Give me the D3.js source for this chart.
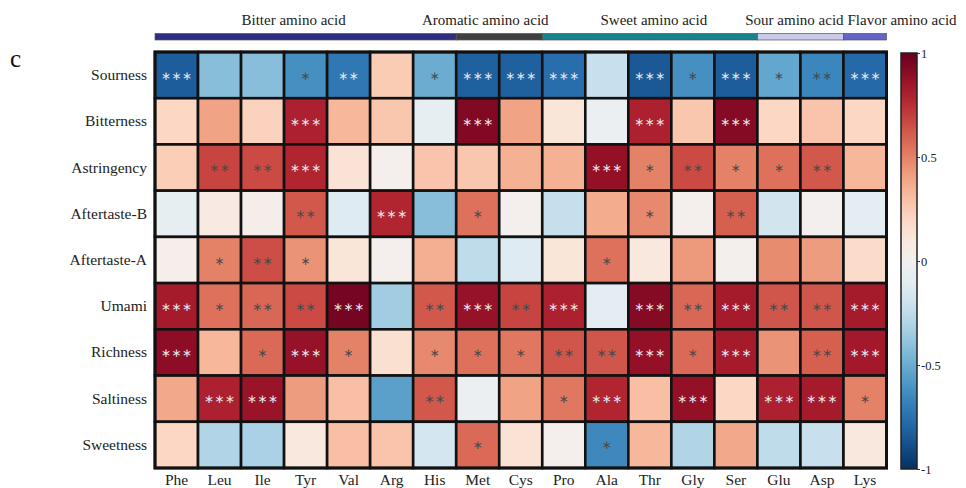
<!DOCTYPE html>
<html>
<head>
<meta charset="utf-8">
<script src="https://cdn.jsdelivr.net/npm/d3@7"></script>
<style>
  html, body { margin: 0; padding: 0; background: #fff; }
  svg { display: block; }
  .serif { font-family: "Liberation Serif", "DejaVu Serif", "Noto Serif", serif; }
</style>
</head>
<body>
<svg id="chart" width="966" height="488"></svg>
<script>
// Taste attributes (rows) and amino acids (columns)
const tastes = ["Sourness", "Bitterness", "Astringency", "Aftertaste-B", "Aftertaste-A",
                "Umami", "Richness", "Saltiness", "Sweetness"];
const aminoAcids = ["Phe", "Leu", "Ile", "Tyr", "Val", "Arg", "His", "Met", "Cys",
                    "Pro", "Ala", "Thr", "Gly", "Ser", "Glu", "Asp", "Lys"];

// Amino acid groups along the top band
const groupNames = ["Bitter amino acid", "Aromatic amino acid", "Sweet amino acid",
                    "Sour amino acid", "Flavor amino acid"];
const groupFirst = ["Phe", "Met", "Pro", "Glu", "Lys"];
const groupLast  = ["His", "Cys", "Ser", "Asp", "Lys"];
const groupColors = ["#2d2e83", "#3f3f3f", "#17838c", "#c9c9ea", "#6464c8"];

// Pearson correlation coefficients, one row per taste attribute
const corr = [
  [-0.83, -0.42, -0.42, -0.62, -0.72, 0.25, -0.50, -0.82, -0.82, -0.76, -0.22, -0.85, -0.62, -0.83, -0.52, -0.66, -0.78],
  [0.20, 0.40, 0.22, 0.80, 0.33, 0.27, -0.08, 0.93, 0.40, 0.12, -0.05, 0.80, 0.27, 0.92, 0.20, 0.28, 0.20],
  [0.24, 0.68, 0.66, 0.78, 0.13, 0.02, 0.28, 0.27, 0.35, 0.35, 0.88, 0.50, 0.66, 0.50, 0.55, 0.62, 0.33],
  [-0.08, 0.08, 0.04, 0.62, -0.12, 0.78, -0.42, 0.55, 0.02, -0.23, 0.37, 0.48, 0.02, 0.60, -0.18, 0.00, -0.10],
  [0.03, 0.50, 0.65, 0.45, 0.12, 0.02, 0.36, -0.25, -0.12, 0.12, 0.55, 0.10, 0.43, 0.01, 0.47, 0.42, 0.18],
  [0.82, 0.55, 0.58, 0.66, 0.96, -0.35, 0.62, 0.87, 0.68, 0.80, -0.10, 0.92, 0.58, 0.82, 0.63, 0.63, 0.82],
  [0.90, 0.33, 0.57, 0.87, 0.50, 0.15, 0.48, 0.55, 0.53, 0.63, 0.63, 0.88, 0.57, 0.82, 0.45, 0.60, 0.83],
  [0.38, 0.80, 0.86, 0.42, 0.30, -0.55, 0.62, -0.05, 0.40, 0.53, 0.78, 0.30, 0.88, 0.20, 0.80, 0.82, 0.50],
  [0.20, -0.30, -0.32, 0.10, 0.30, 0.28, -0.17, 0.57, 0.14, 0.02, -0.65, 0.33, -0.30, 0.38, -0.25, -0.22, 0.10]
];

// Significance level per cell (number of asterisks)
const signif = [
  [3, 0, 0, 1, 2, 0, 1, 3, 3, 3, 0, 3, 1, 3, 1, 2, 3],
  [0, 0, 0, 3, 0, 0, 0, 3, 0, 0, 0, 3, 0, 3, 0, 0, 0],
  [0, 2, 2, 3, 0, 0, 0, 0, 0, 0, 3, 1, 2, 1, 1, 2, 0],
  [0, 0, 0, 2, 0, 3, 0, 1, 0, 0, 0, 1, 0, 2, 0, 0, 0],
  [0, 1, 2, 1, 0, 0, 0, 0, 0, 0, 1, 0, 0, 0, 0, 0, 0],
  [3, 1, 2, 2, 3, 0, 2, 3, 2, 3, 0, 3, 2, 3, 2, 2, 3],
  [3, 0, 1, 3, 1, 0, 1, 1, 1, 2, 2, 3, 1, 3, 0, 2, 3],
  [0, 3, 3, 0, 0, 0, 2, 0, 0, 1, 3, 0, 3, 0, 3, 3, 1],
  [0, 0, 0, 0, 0, 0, 0, 1, 0, 0, 1, 0, 0, 0, 0, 0, 0]
];

const legendTicks = [1, 0.5, 0, -0.5, -1];

// ---- layout ----
const svg = d3.select("#chart");
const grid = { left: 155, right: 886.5, top: 52, bottom: 468 };

const x = d3.scaleBand().domain(aminoAcids).range([grid.left, grid.right]).padding(0);
const y = d3.scaleBand().domain(tastes).range([grid.top, grid.bottom]).padding(0);
const color = d3.scaleDiverging(d3.interpolateRdBu).domain([1, 0, -1]);

// panel letter
svg.append("text")
  .attr("class", "serif")
  .attr("x", 10).attr("y", 67)
  .attr("font-size", 25)
  .attr("fill", "#111")
  .text("c");

// ---- group band ----
const bandY = 33.5, bandH = 6.5;
const labelNudge = [-12, -14, 4, -6, 0];
groupNames.forEach((name, i) => {
  const x0 = x(groupFirst[i]);
  const x1 = x(groupLast[i]) + x.bandwidth();
  svg.append("rect")
    .attr("x", x0).attr("y", bandY)
    .attr("width", x1 - x0).attr("height", bandH)
    .attr("fill", groupColors[i])
    .attr("stroke", "#555").attr("stroke-width", 0.7);
  const last = i === groupNames.length - 1;
  svg.append("text")
    .attr("class", "serif")
    .attr("x", last ? x0 + 4 : (x0 + x1) / 2 + labelNudge[i])
    .attr("y", 25)
    .attr("text-anchor", last ? "start" : "middle")
    .attr("font-size", 15)
    .attr("fill", "#222")
    .text(name);
});

// ---- heatmap cells ----
const cells = [];
tastes.forEach((t, r) => aminoAcids.forEach((a, c) => {
  cells.push({ taste: t, acid: a, v: corr[r][c], s: signif[r][c] });
}));

svg.append("g").selectAll("rect")
  .data(cells).join("rect")
  .attr("x", d => x(d.acid)).attr("y", d => y(d.taste))
  .attr("width", x.bandwidth()).attr("height", y.bandwidth())
  .attr("fill", d => color(d.v))
  .attr("stroke", "#111").attr("stroke-width", 2.6);

svg.append("rect")
  .attr("x", grid.left).attr("y", grid.top)
  .attr("width", grid.right - grid.left).attr("height", grid.bottom - grid.top)
  .attr("fill", "none").attr("stroke", "#111").attr("stroke-width", 3);

// significance asterisks
svg.append("g").selectAll("text")
  .data(cells.filter(d => d.s > 0)).join("text")
  .attr("x", d => x(d.acid) + x.bandwidth() / 2)
  .attr("y", d => y(d.taste) + y.bandwidth() / 2 + 4.5)
  .attr("text-anchor", "middle")
  .attr("font-family", "DejaVu Sans, sans-serif")
  .attr("font-size", 12)
  .attr("letter-spacing", 0.5)
  .attr("fill", d => Math.abs(d.v) >= 0.7 ? "#e4e4ec" : "#4a4a4a")
  .text(d => "\u2217".repeat(d.s));

// ---- axis labels ----
svg.append("g").selectAll("text")
  .data(tastes).join("text")
  .attr("class", "serif")
  .attr("x", 147)
  .attr("y", d => y(d) + y.bandwidth() / 2 + 5)
  .attr("text-anchor", "end")
  .attr("font-size", 15.5)
  .attr("fill", "#222")
  .text(d => d);

svg.append("g").selectAll("text")
  .data(aminoAcids).join("text")
  .attr("class", "serif")
  .attr("x", d => x(d) + x.bandwidth() / 2)
  .attr("y", 485)
  .attr("text-anchor", "middle")
  .attr("font-size", 15.5)
  .attr("fill", "#222")
  .text(d => d);

// ---- colour bar ----
const cb = { x: 901, w: 16, top: 53, bottom: 469 };
const defs = svg.append("defs");
const grad = defs.append("linearGradient")
  .attr("id", "cbar").attr("x1", 0).attr("y1", 0).attr("x2", 0).attr("y2", 1);
d3.range(0, 1.0001, 0.05).forEach(t => {
  grad.append("stop").attr("offset", t).attr("stop-color", color(1 - 2 * t));
});
svg.append("rect")
  .attr("x", cb.x).attr("y", cb.top)
  .attr("width", cb.w).attr("height", cb.bottom - cb.top)
  .attr("fill", "url(#cbar)")
  .attr("stroke", "#222").attr("stroke-width", 1.5);

const cbScale = d3.scaleLinear().domain([1, -1]).range([cb.top, cb.bottom]);
const cbAxis = svg.append("g")
  .attr("transform", `translate(${cb.x + cb.w},0)`)
  .call(d3.axisRight(cbScale).tickValues(legendTicks).tickSize(3).tickPadding(1)
        .tickFormat(d => String(d)));
cbAxis.select(".domain").remove();
cbAxis.selectAll("line").attr("stroke", "#333");
cbAxis.selectAll("text")
  .attr("class", "serif")
  .style("font-family", "Liberation Serif, DejaVu Serif, serif")
  .style("font-size", "12.5px")
  .attr("fill", "#222");
</script>
</body>
</html>
